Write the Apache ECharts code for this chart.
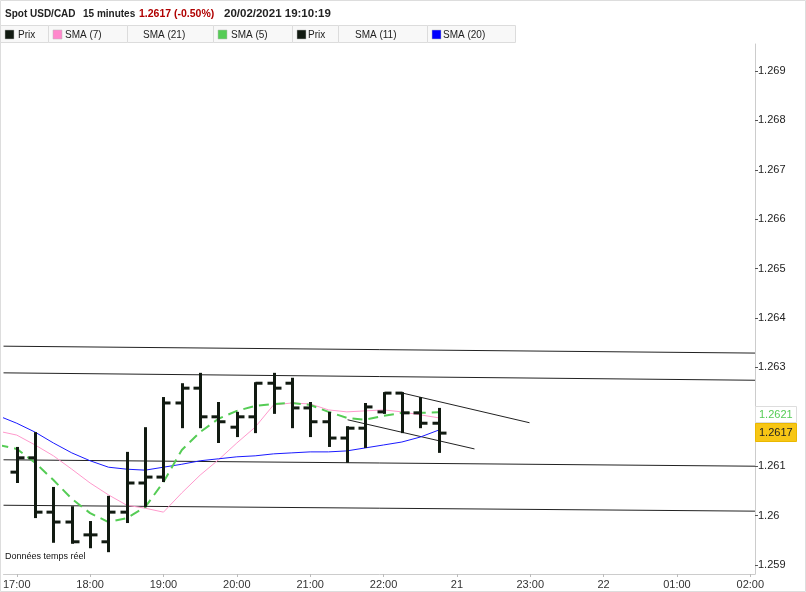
<!DOCTYPE html>
<html><head><meta charset="utf-8">
<script src="https://cdn.jsdelivr.net/npm/echarts@6/dist/echarts.min.js"></script>
<style>html,body{margin:0;padding:0;background:#fff}#c{width:806px;height:592px}</style>
</head><body><div id="c"></div>
<script>
// ---- data ----
var barTimes = ['17:00','17:15','17:30','17:45','18:00','18:15','18:30','18:45','19:00','19:15','19:30','19:45',
  '20:00','20:15','20:30','20:45','21:00','21:15','21:30','21:45','22:00','22:15','22:30','22:45'];
var openV  = [1.26088,1.26117,1.26007,1.25987,1.25961,1.25947,1.26007,1.26066,1.26078,1.26228,1.26258,1.26200,1.26179,1.26200,1.26268,1.26268,1.26218,1.26190,1.26157,1.26177,1.26210,1.26248,1.26208,1.26187];
var highV  = [1.26137,1.26167,1.26056,1.26017,1.25987,1.26038,1.26127,1.26177,1.26238,1.26266,1.26287,1.26228,1.26208,1.26268,1.26287,1.26277,1.26228,1.26208,1.26179,1.26226,1.26248,1.26248,1.26238,1.26216];
var lowV   = [1.26068,1.25997,1.25947,1.25945,1.25936,1.25928,1.25987,1.26019,1.26070,1.26179,1.26179,1.26149,1.26161,1.26169,1.26208,1.26179,1.26161,1.26141,1.26109,1.26139,1.26208,1.26169,1.26179,1.26129];
var closeV = [1.26117,1.26007,1.25987,1.25947,1.25961,1.26007,1.26066,1.26078,1.26228,1.26258,1.26200,1.26190,1.26200,1.26268,1.26258,1.26218,1.26190,1.26157,1.26177,1.26220,1.26248,1.26208,1.26187,1.26167];

var maTimes = ['16:45'].concat(barTimes);
var sma7  = [1.26171,1.26163,1.26143,1.26121,1.26094,1.26066,1.26042,1.26021,1.26015,1.26007,1.26046,1.26082,1.26113,1.26147,1.26179,1.26224,1.26228,1.26226,1.26214,1.26210,1.26212,1.26214,1.26210,1.26204,1.26198];
var sma5  = [1.26143,1.26135,1.26107,1.26072,1.26034,1.26005,1.25987,1.25995,1.26017,1.26068,1.26133,1.26169,1.26196,1.26212,1.26222,1.26226,1.26228,1.26224,1.26210,1.26198,1.26194,1.26202,1.26208,1.26208,1.26209];
var sma20 = [1.26202,1.26187,1.26169,1.26147,1.26127,1.26111,1.26098,1.26094,1.26092,1.26098,1.26104,1.26111,1.26115,1.26119,1.26121,1.26125,1.26127,1.26129,1.26129,1.26131,1.26137,1.26143,1.26149,1.26159,1.26173];

// hand-drawn trend lines: [startHour, startValue, endHour, endValue]
var trendLines = [
  [-0.1805, 1.26343, 10.064, 1.26329],
  [-0.1805, 1.26289, 10.064, 1.26274],
  [-0.1805, 1.26113, 10.064, 1.26100],
  [-0.1805, 1.26021, 10.064, 1.26009],
  [5.26, 1.26248, 6.99, 1.26188],
  [4.51, 1.26194, 6.24, 1.26135]
];

var xTickHours = [0,1,2,3,4,5,6,7,8,9,10];
var xTickLabels = ['17:00','18:00','19:00','20:00','21:00','22:00','21','23:00','22','01:00','02:00'];
var yTickShow = [1.259,1.260,1.261,1.263,1.264,1.265,1.266,1.267,1.268,1.269];

var legendLabels = ['Prix','SMA (7)','SMA (21)','SMA (5)','Prix','SMA (11)','SMA (20)'];
var legendColors = ['#111a11','#ff88cc',null,'#55cc55','#111a11',null,'#0000ff'];
var lastPrice = 1.2617, lastSma5 = 1.2621;

// ---- helpers ----
function hrs(t){var p=t.split(':');return (+p[0]-17)+(+p[1])/60;}
var ohlc = barTimes.map(function(t,i){return [hrs(t),openV[i],highV[i],lowV[i],closeV[i]];});
function maData(arr){return maTimes.map(function(t,i){return [hrs(t),arr[i]];});}

var chart = echarts.init(document.getElementById('c'));
var FONT = '"Liberation Sans", Arial, sans-serif';

var series = [];
trendLines.forEach(function(l){
  series.push({type:'line',data:[[l[0],l[1]],[l[2],l[3]]],showSymbol:false,silent:true,
    lineStyle:{color:'#222',width:1},z:1,animation:false});
});
series.push({name:'SMA (7)',type:'line',data:maData(sma7),showSymbol:false,z:2,animation:false,
  lineStyle:{color:'#ff99cc',width:1}});
series.push({name:'SMA (20)',type:'line',data:maData(sma20),showSymbol:false,z:2,animation:false,
  lineStyle:{color:'#1a1aff',width:1}});
series.push({name:'SMA (5)',type:'line',data:maData(sma5),showSymbol:false,z:2,animation:false,
  lineStyle:{color:'#55cc55',width:2,type:[10,6]}});
series.push({name:'Prix',type:'custom',data:ohlc,z:3,animation:false,clip:true,
  encode:{x:0,y:[1,2,3,4]},
  renderItem:function(params,api){
    var x=api.value(0);
    var pH=api.coord([x,api.value(2)]),pL=api.coord([x,api.value(3)]);
    var pO=api.coord([x,api.value(1)]),pC=api.coord([x,api.value(4)]);
    var px=Math.round(pH[0])+0.5;
    var st={stroke:'#111a11',lineWidth:3};
    return {type:'group',children:[
      {type:'line',shape:{x1:px,y1:pH[1]-1,x2:px,y2:pL[1]+1},style:st},
      {type:'line',shape:{x1:px-7,y1:pO[1],x2:px,y2:pO[1]},style:st},
      {type:'line',shape:{x1:px,y1:pC[1],x2:px+7,y2:pC[1]},style:st}
    ]};
  }});

// graphic: header, legend, footer note
var graphic = [
  {type:'rect',shape:{x:0.5,y:0.5,width:805,height:591},style:{fill:'none',stroke:'#ddd',lineWidth:1},silent:true,z:-1},
  {type:'text',x:5,y:14,style:{text:'Spot USD/CAD',font:'bold 10px '+FONT,fill:'#222',textVerticalAlign:'middle'}},
  {type:'text',x:83,y:14,style:{text:'15 minutes',font:'bold 10px '+FONT,fill:'#222',textVerticalAlign:'middle'}},
  {type:'text',x:139,y:14,style:{text:'1.2617 (-0.50%)',font:'bold 10.5px '+FONT,fill:'#b00000',textVerticalAlign:'middle'}},
  {type:'text',x:224,y:14,style:{text:'20/02/2021 19:10:19',font:'bold 11.5px '+FONT,fill:'#222',textVerticalAlign:'middle'}},
  {type:'text',x:5,y:557,style:{text:'Données temps réel',font:'9px '+FONT,fill:'#111',textVerticalAlign:'middle'}}
];
var cellEdges = [0,48,127,213,292,338,427,515];
var textX = [18,65,143,231,308,355,443];
for (var i=0;i<legendLabels.length;i++){
  graphic.push({type:'rect',shape:{x:cellEdges[i]+0.5,y:25.5,width:cellEdges[i+1]-cellEdges[i],height:17},
    style:{fill:'#f8f8f8',stroke:'#dcdcdc',lineWidth:1},silent:true});
  if (legendColors[i]) graphic.push({type:'rect',shape:{x:cellEdges[i]+5,y:30,width:9,height:9},
    style:{fill:legendColors[i],stroke:'#bbb',lineWidth:0.5},silent:true});
  graphic.push({type:'text',x:textX[i],y:35,style:{text:legendLabels[i],font:'10px '+FONT,fill:'#222',textVerticalAlign:'middle'}});
}

var option = {
  backgroundColor:'#fff',
  animation:false,
  grid:{left:0,right:51,top:44,bottom:18,containLabel:false},
  xAxis:{type:'value',min:-0.1805,max:10.064,
    axisLine:{show:true,onZero:false,lineStyle:{color:'#ccc'}},
    axisTick:{show:true,length:3,lineStyle:{color:'#bbb'},customValues:xTickHours},
    axisLabel:{show:true,customValues:xTickHours,margin:5,fontSize:11,fontFamily:FONT,color:'#333',
      formatter:function(v){var k=Math.round(v);return xTickLabels[k]||'';}},
    splitLine:{show:false}},
  yAxis:{type:'value',position:'right',min:1.258818,max:1.269547,
    axisLine:{show:true,onZero:false,lineStyle:{color:'#ccc'}},
    axisTick:{show:true,length:3,lineStyle:{color:'#555'},customValues:yTickShow},
    axisLabel:{show:true,customValues:yTickShow,margin:3,fontSize:11,fontFamily:FONT,color:'#222',
      formatter:function(v){return String(parseFloat(v.toFixed(4)));}},
    splitLine:{show:false}},
  series:series,
  graphic:graphic
};
chart.setOption(option);

// price tags placed on the value axis from their values
var ySma = Math.round(chart.convertToPixel({yAxisIndex:0}, lastSma5));
var yPx  = Math.round(chart.convertToPixel({yAxisIndex:0}, lastPrice));
var tagX = chart.convertToPixel({xAxisIndex:0}, 10.064);
chart.setOption({graphic: graphic.concat([
  {type:'rect',shape:{x:tagX+0.5,y:ySma-5.5,width:41,height:16},style:{fill:'#fff',stroke:'#ddd',lineWidth:1},z:10},
  {type:'text',x:tagX+4,y:ySma+2.5,style:{text:String(lastSma5),font:'11px '+FONT,fill:'#55cc55',textVerticalAlign:'middle'},z:11},
  {type:'rect',shape:{x:tagX+0.5,y:yPx-8.5,width:41,height:18},style:{fill:'#f7c615',stroke:'#eab800',lineWidth:1},z:10},
  {type:'text',x:tagX+4,y:yPx+0.5,style:{text:lastPrice.toFixed(4),font:'11px '+FONT,fill:'#222',textVerticalAlign:'middle'},z:11}
])});
</script></body></html>
